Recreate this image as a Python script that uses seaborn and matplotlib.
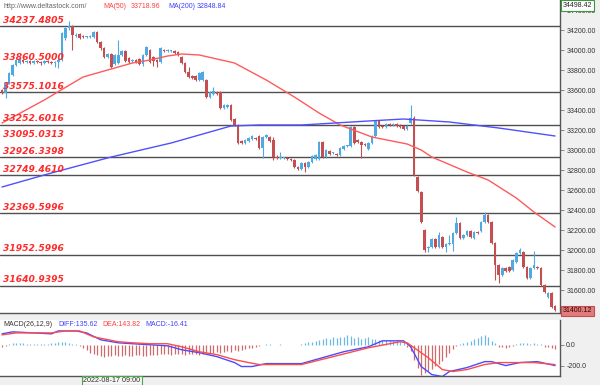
import numpy as np
import matplotlib
matplotlib.use("Agg")
import matplotlib.pyplot as plt
from matplotlib.ticker import FormatStrFormatter
import seaborn as sns

sns.set_style("white")
plt.rcParams["font.family"] = ["DejaVu Sans"]

# candles, one value per bar
opens = [
    33600, 33570, 33670, 33750, 33850, 33870, 33900, 33880, 33890, 33870,
    33890, 33880, 33870, 33890, 33880, 33870, 33880, 33900, 34120, 34220,
    34240, 34140, 34160, 34140, 34130, 34130, 34130, 34180, 34080, 34020,
    33930, 33960, 33860, 33870, 33950, 33990, 33920, 33890, 33900, 33910,
    33860, 33950, 34000, 33930, 33900, 33880, 34000, 33990, 33990, 33990,
    33980, 33930, 33870, 33780, 33740, 33740, 33700, 33700, 33700, 33530,
    33560, 33580, 33580, 33420, 33430, 33450, 33310, 33250, 33090, 33070,
    33090, 33110, 33120, 33140, 33020, 33130, 33130, 33100, 32930, 32920,
    32920, 32920, 32910, 32900, 32830, 32810, 32870, 32830, 32880, 32910,
    32910, 33080, 32930, 32990, 32970, 32960, 32950, 33010, 33040, 33040,
    33230, 33100, 33080, 33060, 33010, 33070, 33140, 33290, 33240, 33230,
    33260, 33250, 33260, 33250, 33240, 33210, 33270, 33320, 32730, 32580,
    32200, 32020, 32030, 32110, 32030, 32130, 32030, 32060, 32060, 32170,
    32270, 32120, 32150, 32190, 32120, 32180, 32190, 32280, 32350, 32280,
    32070, 31850, 31750, 31820, 31830, 31800, 31880, 31970, 31980, 31830,
    31720, 31820, 31830, 31820, 31650, 31530, 31570, 31440,
]
closes = [
    33570, 33670, 33770, 33850, 33900, 33910, 33880, 33890, 33870, 33890,
    33880, 33870, 33890, 33880, 33870, 33880, 33900, 34170, 34220, 34240,
    34150, 34150, 34120, 34130, 34130, 34140, 34180, 34080, 34020, 33930,
    33960, 33830, 33950, 33950, 33990, 33890, 33880, 33900, 33880, 33860,
    33950, 34030, 33880, 33890, 33880, 34020, 33990, 34000, 33990, 33970,
    33950, 33870, 33780, 33730, 33720, 33700, 33770, 33780, 33530, 33580,
    33590, 33560, 33420, 33450, 33450, 33300, 33250, 33070, 33070, 33100,
    33120, 33140, 33110, 33020, 33130, 33150, 33090, 32930, 32920, 32930,
    32920, 32910, 32900, 32830, 32810, 32870, 32830, 32880, 32940, 32950,
    33080, 32930, 33000, 32960, 32970, 32950, 33020, 33040, 33040, 33230,
    33070, 33080, 33050, 33050, 33070, 33140, 33290, 33230, 33230, 33260,
    33250, 33260, 33240, 33230, 33210, 33240, 33320, 32750, 32590, 32280,
    32000, 32030, 32110, 32030, 32150, 32030, 32060, 32070, 32170, 32270,
    32120, 32150, 32190, 32130, 32180, 32170, 32280, 32350, 32280, 32070,
    31850, 31750, 31820, 31790, 31790, 31900, 31970, 32000, 31830, 31720,
    31820, 31850, 31820, 31650, 31580, 31570, 31430, 31400,
]
highs = [
    33610, 33680, 33780, 33860, 33910, 33920, 33910, 33900, 33900, 33900,
    33900, 33890, 33900, 33900, 33890, 33890, 33920, 34180, 34230, 34290,
    34250, 34170, 34170, 34150, 34140, 34150, 34190, 34190, 34090, 34030,
    33970, 33970, 33960, 34100, 34000, 34000, 33930, 33910, 33910, 33920,
    33960, 34040, 34010, 33940, 33910, 34030, 34010, 34010, 34000, 34000,
    33990, 33940, 33880, 33830, 33750, 33750, 33780, 33790, 33710, 33590,
    33630, 33590, 33590, 33460, 33460, 33460, 33320, 33260, 33100, 33110,
    33130, 33150, 33130, 33150, 33140, 33160, 33140, 33130, 32950, 32980,
    32930, 32930, 32920, 32910, 32840, 32880, 32880, 32890, 32950, 32960,
    33090, 33090, 33010, 33000, 32980, 32970, 33030, 33050, 33050, 33240,
    33240, 33110, 33090, 33070, 33080, 33150, 33300, 33300, 33250, 33270,
    33270, 33270, 33270, 33260, 33250, 33250, 33450, 33340, 32740, 32590,
    32210, 32040, 32120, 32120, 32180, 32140, 32070, 32150, 32180, 32330,
    32280, 32160, 32200, 32200, 32190, 32190, 32290, 32380, 32360, 32290,
    32080, 31860, 31830, 31830, 31840, 31910, 31980, 32020, 31990, 31840,
    31830, 31990, 31840, 31830, 31660, 31580, 31580, 31450,
]
lows = [
    33560, 33520, 33660, 33740, 33840, 33860, 33870, 33870, 33860, 33860,
    33870, 33850, 33860, 33870, 33860, 33830, 33820, 33890, 34100, 34200,
    34000, 34130, 34110, 34120, 34120, 34120, 34120, 34070, 34000, 33920,
    33920, 33820, 33850, 33860, 33940, 33880, 33870, 33880, 33870, 33850,
    33840, 33940, 33870, 33840, 33830, 33870, 33980, 33980, 33980, 33960,
    33940, 33860, 33770, 33720, 33710, 33690, 33690, 33690, 33520, 33520,
    33550, 33550, 33410, 33410, 33420, 33290, 33240, 33060, 33060, 33060,
    33080, 33100, 33100, 33010, 32920, 33120, 33080, 32900, 32910, 32910,
    32910, 32900, 32890, 32820, 32800, 32800, 32780, 32820, 32870, 32900,
    32900, 32920, 32920, 32950, 32960, 32940, 32940, 33000, 33030, 33030,
    33060, 33070, 32920, 33040, 33000, 33060, 33130, 33220, 33220, 33220,
    33240, 33240, 33230, 33220, 33200, 33200, 33260, 32740, 32580, 32270,
    31980, 31980, 32020, 32020, 32020, 32020, 31980, 32050, 31990, 32160,
    32110, 32110, 32140, 32120, 32110, 32160, 32180, 32270, 32270, 32060,
    31700, 31670, 31740, 31780, 31780, 31790, 31870, 31960, 31820, 31710,
    31710, 31810, 31810, 31640, 31570, 31520, 31420, 31390,
]

# moving averages, sampled at bar numbers
ma50_x = [0, 12, 23, 37, 42, 47, 51, 56, 66, 75, 83, 90, 96, 105, 115, 119, 122, 132, 138, 146, 151, 157]
ma50_y = [33270, 33500, 33730, 33870, 33900, 33940, 33960, 33950, 33870, 33700, 33530, 33370,
          33250, 33130, 33060, 33000, 32930, 32780, 32700, 32520, 32380, 32230]
ma200_x = [0, 14, 31, 48, 65, 73, 85, 104, 114, 127, 141, 157]
ma200_y = [32630, 32770, 32930, 33070, 33240, 33250, 33250, 33290, 33310, 33280, 33220, 33140]

# support / resistance
level_lines = [34237.4805, 33575.1016, 33252.6016, 32926.3398, 32749.4610,
               32369.5996, 31952.5996, 31640.9395]
level_labels = [34237.4805, 33860.5000, 33575.1016, 33252.6016, 33095.0313,
                32926.3398, 32749.4610, 32369.5996, 31952.5996, 31640.9395]

# MACD panel
diff_x = [0, 3, 9, 14, 16, 21, 24, 28, 33, 37, 42, 47, 51, 56, 61, 66, 68, 71, 75, 80, 85, 89,
          97, 104, 108, 114, 116, 119, 122, 125, 127, 132, 137, 139, 143, 147, 152, 157]
diff_y = [105, 124, 114, 105, 133, 133, 114, 48, 19, 10, 0, -10, -48, -76, -114, -171, -209,
          -209, -181, -181, -181, -143, -67, -19, 38, 38, -19, -209, -286, -305, -257, -219,
          -162, -162, -200, -171, -162, -200]
dea_x = [0, 4, 14, 18, 22, 26, 33, 37, 42, 47, 51, 56, 61, 66, 70, 73, 77, 85, 94, 104, 113,
         115, 121, 125, 128, 132, 137, 141, 151, 157]
dea_y = [95, 114, 114, 133, 133, 76, 29, 19, 10, 10, -19, -67, -95, -143, -171, -190, -190,
         -190, -114, -29, 29, 19, -124, -238, -257, -238, -190, -171, -171, -190]
macd_hist = [
    -20, -10, 10, 15, 20, 20, 15, 10, 5, 5, 5, 5, 8, 10, 15, 20, 30, 30, 25, 15,
    10, 5, -10, -30, -55, -75, -90, -100, -110, -115, -105, -110, -100, -105, -110, -100, -105, -110, -100, -95,
    -105, -110, -100, -95, -100, -90, -85, -90, -95, -90, -85, -90, -95, -90, -85, -90, -95, -85, -80, -85,
    -80, -70, -75, -70, -60, -65, -55, -60, -50, -45, -35, -30, -20, -10, -5, 5, 5, -5, -5, 5,
    -5, -5, -5, -5, -5, 5, 19, 25, 30, 40, 50, 60, 65, 60, 70, 65, 70, 75, 95, 80,
    65, 70, 60, 65, 70, 60, 55, 50, 45, 50, 45, 40, 45, 40, 30, -20, -60, -143, -220, -286,
    -275, -250, -230, -200, -180, -160, -120, -80, -45, -15, 10, 20, 30, 40, 55, 65, 85, 95, 75, 40,
    15, -25, -20, -30, -25, -15, 10, 15, 20, 15, 10, 20, 10, 5, -20, -25, -30, -45,
]

UP = "#4fa9e2"
DOWN = "#c44e50"

o = np.array(opens)
c = np.array(closes)
bar_idx = np.arange(len(closes))
cols = [UP if cc >= oo else DOWN for oo, cc in zip(o, c)]

fig = plt.figure(figsize=(6, 3.85), dpi=100)
fig.patch.set_facecolor("#f0f0f0")
ax = fig.add_axes([0, 72 / 385, 560 / 600, 313 / 385])
ax2 = fig.add_axes([0, 9 / 385, 560 / 600, 56 / 385])

# main price panel
for v in level_lines:
    ax.axhline(v, color="#505050", lw=1.0, zorder=2)

ax.vlines(bar_idx, lows, highs, colors=cols, lw=0.8, zorder=3)
ax.bar(bar_idx, np.maximum(np.abs(c - o), 6), bottom=np.minimum(o, c),
       width=0.74, color=cols, linewidth=0, zorder=3)

sns.lineplot(x=ma50_x, y=ma50_y, ax=ax, color="#ff5a5a", lw=1, zorder=4)
sns.lineplot(x=ma200_x, y=ma200_y, ax=ax, color="#5050ff", lw=1, zorder=4)

for v in level_labels:
    ax.text(0.005, v + 15, f"{v:.4f}", transform=ax.get_yaxis_transform(),
            color="#ff2a2a", fontsize=6.6, fontweight="bold", fontstyle="italic",
            va="bottom", ha="left", zorder=6)

ax.set_xlim(-0.57, 158.4)
ax.set_ylim(31370, 34500)
ax.set_xticks([])
ax.yaxis.tick_right()
ax.set_yticks(np.arange(31600, 34401, 200))
ax.yaxis.set_major_formatter(FormatStrFormatter("%.2f"))
ax.tick_params(axis="y", labelsize=5, color="#777", labelcolor="#333",
               length=3, width=0.6, pad=1.5)
ax.set_facecolor("white")
ax.set_xlabel("")
ax.set_ylabel("")

# MACD panel
hist_cols = ["#6cb8e6" if h >= 0 else "#d06a6a" for h in macd_hist]
ax2.vlines(bar_idx, 0, macd_hist, colors=hist_cols, lw=0.9, zorder=2)
sns.lineplot(x=diff_x, y=diff_y, ax=ax2, color="#4b4bff", lw=1, zorder=3)
sns.lineplot(x=dea_x, y=dea_y, ax=ax2, color="#ff4b4b", lw=1, zorder=3)
ax2.set_xlim(-0.57, 158.4)
ax2.set_ylim(-300, 238)
ax2.set_xticks([])
ax2.yaxis.tick_right()
ax2.set_yticks([0, -200])
ax2.yaxis.set_major_formatter(FormatStrFormatter("%.1f"))
ax2.tick_params(axis="y", labelsize=5, color="#777", labelcolor="#333",
                length=3, width=0.6, pad=1.5)
ax2.set_facecolor("white")
ax2.set_xlabel("")
ax2.set_ylabel("")

for a in (ax, ax2):
    a.spines["top"].set_visible(False)
    a.spines["left"].set_visible(False)
    a.spines["right"].set_color("#555")
    a.spines["bottom"].set_color("#555")
    a.spines["right"].set_linewidth(1)
    a.spines["bottom"].set_linewidth(1)
    for t in a.get_yticklabels():
        t.set_family("Liberation Sans")


def px(x, y):
    return x / 600, 1 - y / 385


small = dict(fontsize=5, va="center", ha="left", family="Liberation Sans")
fig.text(*px(3, 6), "http://www.deltastock.com/", color="#666", **small)
fig.text(*px(103, 6), "MA(50)", color="#ff4040", **small)
fig.text(*px(131, 6), "33718.96", color="#ff4040", **small)
fig.text(*px(168, 6), "MA(200)", color="#4040ff", **small)
fig.text(*px(197, 6), "32848.84", color="#4040ff", **small)

fig.text(*px(3, 325), "MACD(26,12,9)", color="#333", **small)
fig.text(*px(58, 325), "DIFF:135.62", color="#4040ff", **small)
fig.text(*px(102, 325), "DEA:143.82", color="#ff4040", **small)
fig.text(*px(145, 325), "MACD:-16.41", color="#4040ff", **small)

fig.text(*px(563, 5.5), "34498.42", color="#222", fontsize=5, va="center", ha="left",
         family="Liberation Sans", zorder=10,
         bbox=dict(boxstyle="square,pad=0.25", fc="white", ec="#3a9a3a", lw=0.8))
fig.text(*px(563, 311), "31400.12", color="#300", fontsize=5, va="center", ha="left",
         family="Liberation Sans", zorder=10,
         bbox=dict(boxstyle="square,pad=0.25", fc="#e27c7c", ec="#c05050", lw=0.8))
fig.text(*px(112, 380.5), "2022-08-17 09:00", color="#333", fontsize=5.2, va="center",
         ha="center", family="Liberation Sans", zorder=10,
         bbox=dict(boxstyle="square,pad=0.2", fc="#f4f4f4", ec="#44aa44", lw=0.8))

fig.savefig("out.png", dpi=100, facecolor=fig.get_facecolor())
